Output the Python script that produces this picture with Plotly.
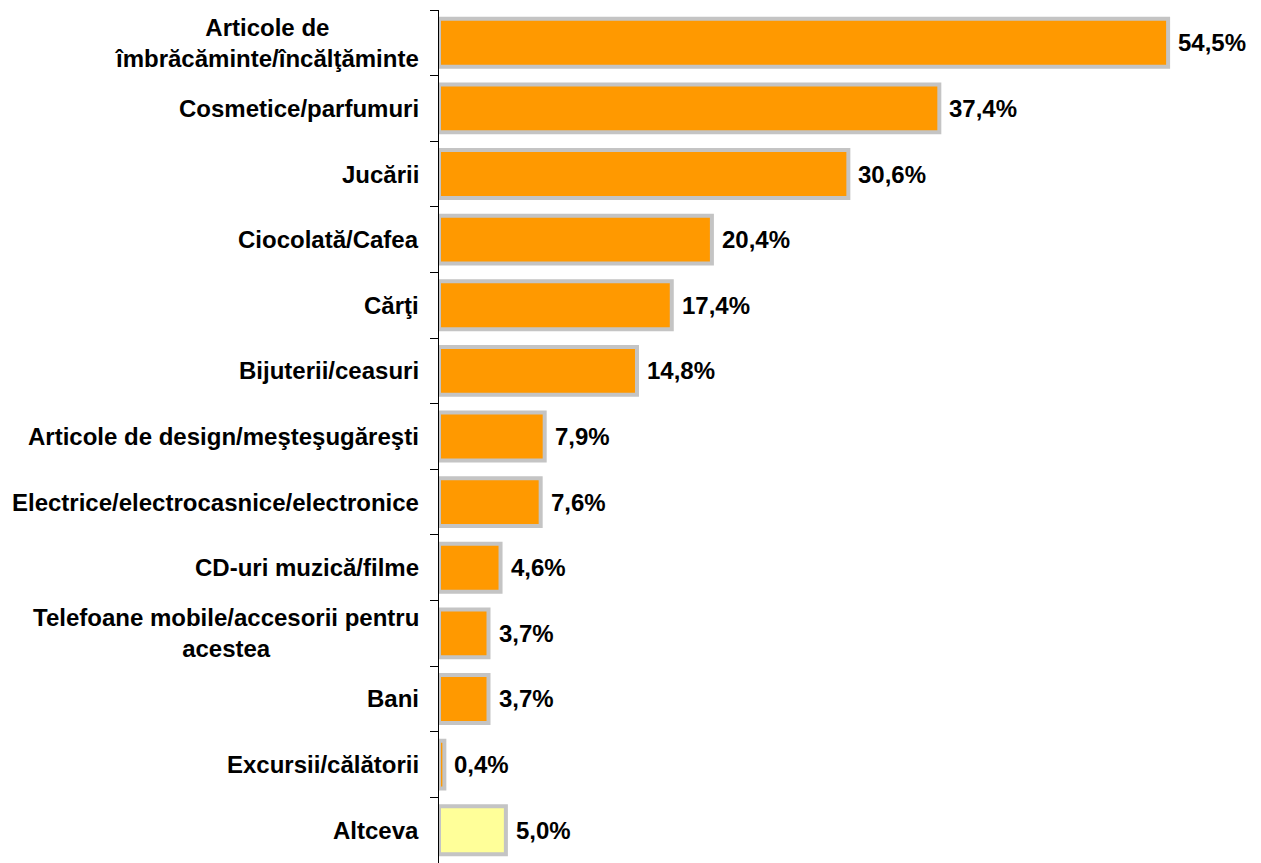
import plotly.graph_objects as go

categories = [
    "Articole de<br>îmbrăcăminte/încălţăminte",
    "Cosmetice/parfumuri",
    "Jucării",
    "Ciocolată/Cafea",
    "Cărţi",
    "Bijuterii/ceasuri",
    "Articole de design/meşteşugăreşti",
    "Electrice/electrocasnice/electronice",
    "CD-uri muzică/filme",
    "Telefoane mobile/accesorii pentru<br>acestea",
    "Bani",
    "Excursii/călătorii",
    "Altceva",
]
values = [54.5, 37.4, 30.6, 20.4, 17.4, 14.8, 7.9, 7.6, 4.6, 3.7, 3.7, 0.4, 5.0]
bar_colors = ["#FF9900"] * 12 + ["#FFFF99"]
value_labels = [f"{v:.1f}".replace(".", ",") + "%" for v in values]

ids = list(range(len(categories)))
FONT = "Liberation Sans, Arial, sans-serif"
FS = 24

fig = go.Figure(
    go.Bar(
        x=values,
        y=ids,
        orientation="h",
        marker=dict(color=bar_colors, line=dict(color="#C4C4C4", width=4)),
        hoverinfo="skip",
    )
)

for i, c, v, t in zip(ids, categories, values, value_labels):
    fig.add_annotation(
        x=0, xref="paper", y=i, yref="y",
        text="<b>" + c + "</b>", showarrow=False,
        xanchor="right", yanchor="middle", align="center",
        xshift=-18,
        font=dict(family=FONT, size=FS, color="black"),
    )
    fig.add_annotation(
        x=v, xref="x", y=i, yref="y",
        text="<b>" + t + "</b>", showarrow=False,
        xanchor="left", yanchor="middle",
        xshift=8,
        font=dict(family=FONT, size=FS, color="black"),
    )

fig.update_layout(
    width=1261, height=863,
    margin=dict(l=439, r=22, t=10, b=0),
    plot_bgcolor="white", paper_bgcolor="white",
    showlegend=False,
    bargap=0.27,
    xaxis=dict(range=[0, 59.8], visible=False, fixedrange=True),
    yaxis=dict(
        type="linear",
        range=[len(categories) - 0.5, -0.5],
        tickmode="array",
        tickvals=[i - 0.5 for i in range(len(categories) + 1)],
        showticklabels=False,
        ticks="outside", ticklen=8, tickcolor="black", tickwidth=1,
        showline=True, linecolor="black", linewidth=1,
        showgrid=False, zeroline=False,
    ),
    font=dict(family=FONT),
)

fig.write_html("out.html")
